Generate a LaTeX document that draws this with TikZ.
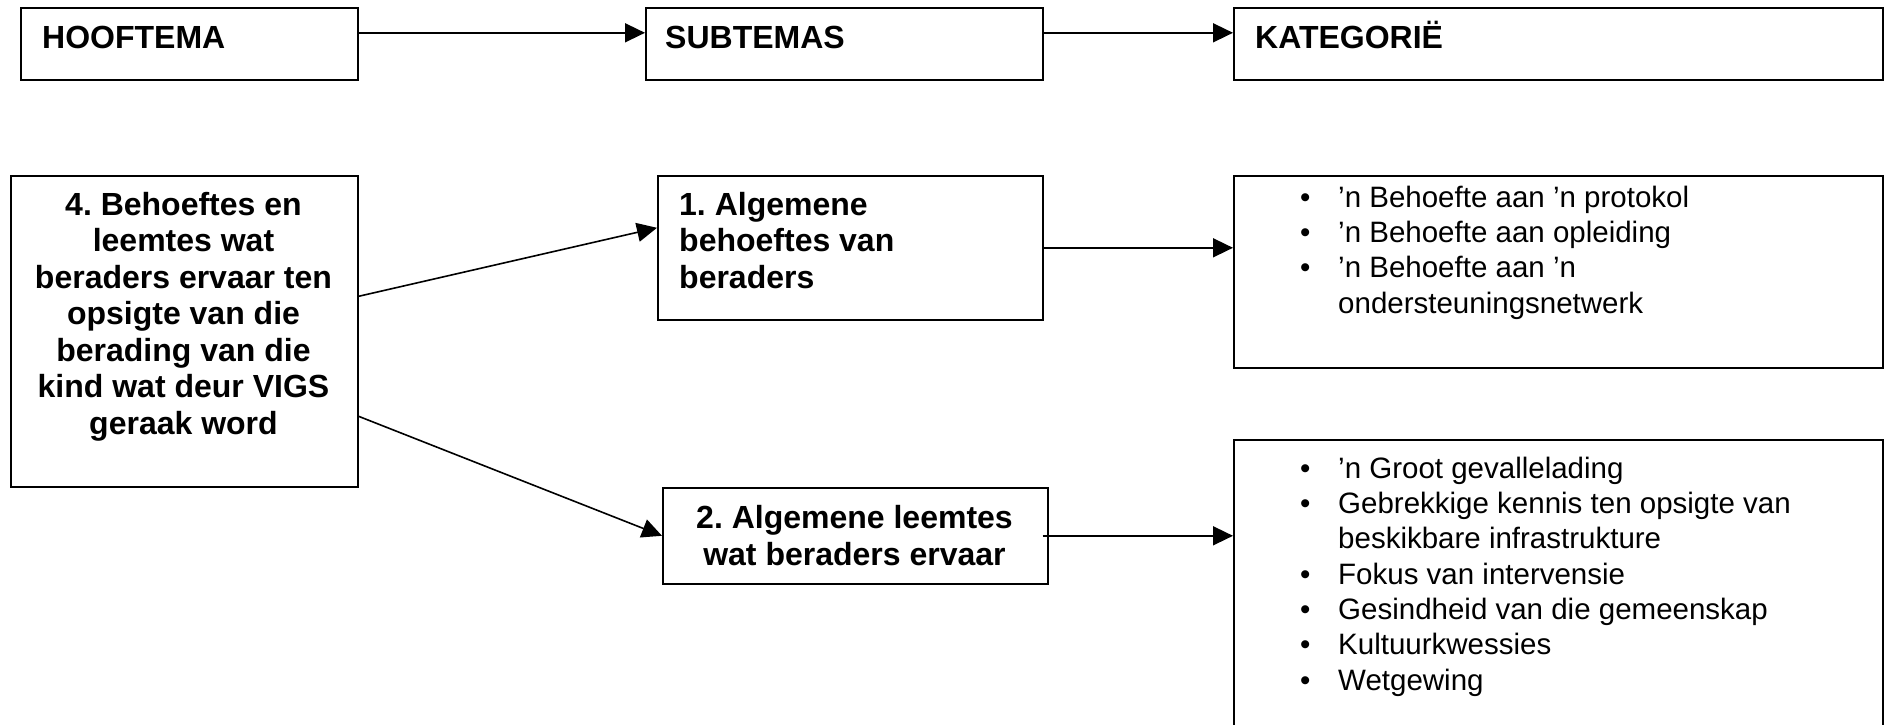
\documentclass[tikz,border=0pt]{standalone}
\usepackage{fontspec}
\setmainfont{Liberation Sans}
\usetikzlibrary{arrows.meta,calc}
\frenchspacing
\begin{document}
\begin{tikzpicture}[x=1pt,y=-1pt,
  box/.style={draw,line width=1.6pt,inner sep=0pt,anchor=north west},
  arr/.style={line width=1.6pt,-{Triangle[length=20pt,width=19pt]}},
  hd/.style={inner sep=0pt,font=\fontsize{32}{36.5}\selectfont\bfseries\frenchspacing},
  lst/.style={inner sep=0pt,anchor=base west,align=left,font=\fontsize{29.5}{35.3}\selectfont}]
\useasboundingbox (0,0) rectangle (1891,724);
\clip (0,0) rectangle (1891,724);
% boxes
\node[box,minimum width=337pt,minimum height=72pt] (hoof) at (20,7) {};
\node[box,minimum width=397pt,minimum height=72pt] (sub) at (645,7) {};
\node[box,minimum width=649pt,minimum height=72pt] (kat) at (1233,7) {};
\node[box,minimum width=347pt,minimum height=311pt] (main) at (10,175) {};
\node[box,minimum width=385pt,minimum height=144pt] (b1) at (657,175) {};
\node[box,minimum width=385pt,minimum height=96pt] (b2) at (662,487) {};
\node[box,minimum width=649pt,minimum height=192pt] (k1) at (1233,175) {};
\node[box,minimum width=649pt,minimum height=300pt] (k2) at (1233,439) {};
% texts (multi-line nodes: base = baseline of last line)
\node[hd,anchor=base west] (thoof) at (42,48) {HOOFTEMA};
\node[hd,anchor=base west] (tsub) at (665,48) {SUBTEMAS};
\node[hd,anchor=base west] (tkat) at (1255,48) {KATEGORIË};
\node[hd,anchor=base,align=center] (tmain) at (183.5,434) {4. Behoeftes en\\leemtes wat\\beraders ervaar ten\\opsigte van die\\berading van die\\kind wat deur VIGS\\geraak word};
\node[hd,anchor=base west,align=left] (tb1) at (679,288) {1. Algemene\\behoeftes van\\beraders};
\node[hd,anchor=base,align=center] (tb2) at (854.5,565) {2. Algemene leemtes\\wat beraders ervaar};
\node[lst] (tk1) at (1300,313) {\makebox[38pt][l]{•}’n Behoefte aan ’n protokol\\
\makebox[38pt][l]{•}’n Behoefte aan opleiding\\
\makebox[38pt][l]{•}’n Behoefte aan ’n\\
\hspace*{38pt}ondersteuningsnetwerk};
\node[lst] (tk2) at (1300,690) {\makebox[38pt][l]{•}’n Groot gevallelading\\
\makebox[38pt][l]{•}Gebrekkige kennis ten opsigte van\\
\hspace*{38pt}beskikbare infrastrukture\\
\makebox[38pt][l]{•}Fokus van intervensie\\
\makebox[38pt][l]{•}Gesindheid van die gemeenskap\\
\makebox[38pt][l]{•}Kultuurkwessies\\
\makebox[38pt][l]{•}Wetgewing};
% connectors
\draw[arr] ([yshift=11pt]hoof.east) -- ([yshift=11pt]hoof.east -| sub.west);
\draw[arr] ([yshift=11pt]sub.east) -- ([yshift=11pt]sub.east -| kat.west);
\draw[arr] ([yshift=35pt]main.east) -- ([yshift=20pt]b1.west);
\draw[arr] ([yshift=-85pt]main.east) -- (b2.west);
\draw[arr] (b1.east) -- (b1.east -| k1.west);
\draw[arr] ([xshift=-6pt]b2.east) -- (b2.east -| k2.west);
\end{tikzpicture}
\end{document}
